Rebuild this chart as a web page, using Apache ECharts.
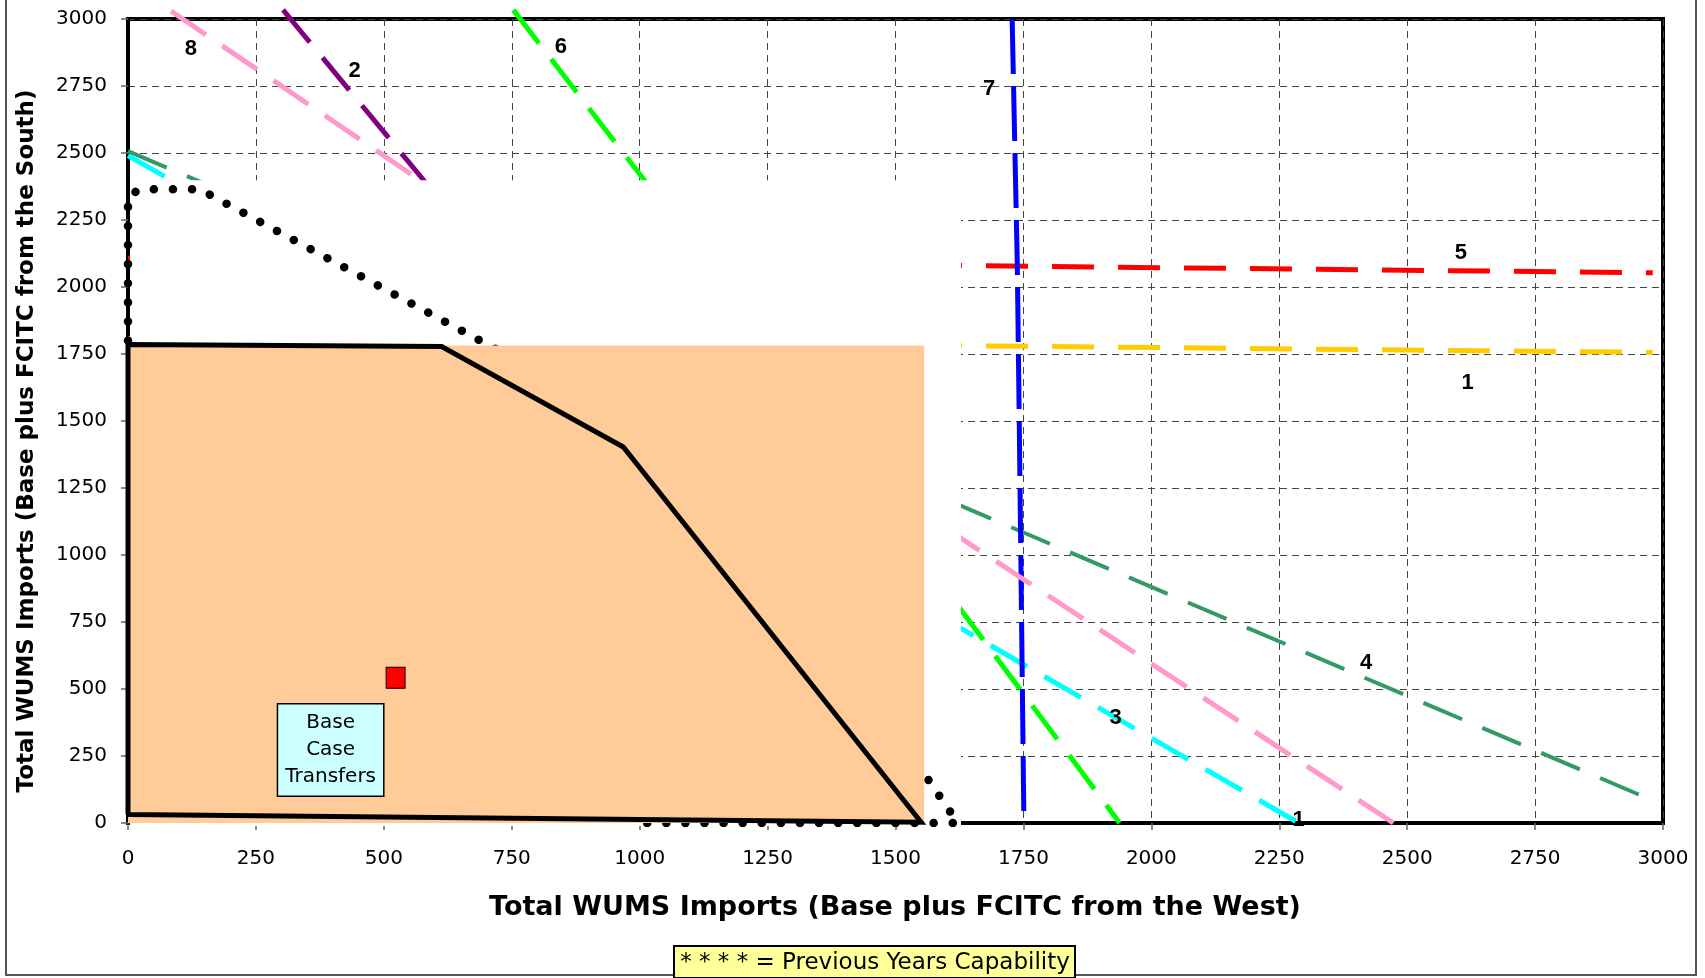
<!DOCTYPE html>
<html><head><meta charset="utf-8">
<script src="https://cdn.jsdelivr.net/npm/echarts@6/dist/echarts.min.js"></script>
<style>html,body{margin:0;padding:0;background:#fff}#c{width:1705px;height:978px}</style>
</head><body><div id="c"></div>
<script>
// ---- data ----
const axisMin = 0, axisMax = 3000, axisStep = 250;
const xTitle = 'Total WUMS Imports (Base plus FCITC from the West)';
const yTitle = 'Total WUMS Imports (Base plus FCITC from the South)';
const footnote = '* * * * = Previous Years Capability';

const line1 = [[0,1808],[1628,1781],[2980,1756]];
const line2 = [[303,3034],[582,2389],[1600,0]];
const line3 = [[0,2490],[1628,726],[2288,0]];
const line4 = [[0,2507],[2985,80]];
const line5 = [[0,2107],[1628,2080],[2980,2053]];
const line6 = [[753,3034],[1019,2374],[1628,795],[1938,0]];
const line7 = [[1728,3000],[1738,2089],[1742,1479],[1751,0]];
const line8 = [[84,3030],[578,2389],[1658,1025],[2473,0]];
const previousCapability = [[0,1800],[0,2337],[23,2365],[140,2365],[725,1762],[1560,173],[1622,0],[1000,0]];
const currentCapability = [[0,32],[0,1785],[613,1778],[968,1403],[1550,3],[0,32]];
const shadedRegion = [0,0,1556,1782];
const blankRegion = [0,0,1628,2398];
const baseCase = [[523,542]];
const lineLabels = [[123,2887,'8'],[443,2807,'2'],[846,2897,'6'],[1683,2738,'7'],[2605,2128,'5'],[2618,1643,'1'],[2420,596,'4'],[1930,393,'3'],[2288,11,'1']];
const noteLabel = [[396,272,'Base\nCase\nTransfers']];

// ---- chart ----
const chart = echarts.init(document.getElementById('c'), null, {renderer:'canvas'});

function dashLine(name, data, color, width, dash){
  return {type:'line', name, data, symbol:'none', clip:false, z:2, silent:true,
    lineStyle:{color, width, type:dash, cap:'butt', opacity:1}};
}
function rectSeries(name, region, color, z, padL, padB){
  return {type:'custom', name, z, silent:true, clip:false,
    data:[region],
    renderItem(params, api){
      const p0 = api.coord([api.value(0), api.value(1)]);
      const p1 = api.coord([api.value(2), api.value(3)]);
      return {type:'rect', shape:{x:p0[0]+padL, y:p1[1], width:p1[0]-p0[0]-padL, height:p0[1]-p1[1]+padB},
        style:{fill:color, opacity:1}};
    }};
}
const axisCommon = {
  type:'value', min:axisMin, max:axisMax, interval:axisStep,
  axisLine:{show:true, onZero:false, lineStyle:{color:'#000', width:4}},
  axisTick:{show:true, length:7, lineStyle:{color:'#666', width:1.5}},
  splitLine:{show:true, lineStyle:{color:'#444', width:1, type:[7,5]}}
};
const tickFmt = v => String(v);
const dashPat = [42,20];
chart.setOption({
  animation:false,
  backgroundColor:'#fff',
  grid:{left:128, right:42, top:19, bottom:155, show:true, borderColor:'#000', borderWidth:4, backgroundColor:'transparent', outerBoundsMode:'none'},
  xAxis:Object.assign({}, axisCommon, {axisLabel:{fontFamily:'DejaVu Sans', fontSize:20, color:'#000', margin:26, formatter:tickFmt}}),
  yAxis:Object.assign({}, axisCommon, {axisLabel:{fontFamily:'DejaVu Sans', fontSize:20, color:'#000', margin:21, formatter:tickFmt}}),
  series:[
    dashLine('1', line1, '#FFCC00', 5, [42,24]),
    dashLine('2', line2, '#800080', 5, dashPat),
    dashLine('3', line3, '#00FFFF', 5, dashPat),
    dashLine('4', line4, '#339966', 4, [42,22]),
    dashLine('5', line5, '#FF0000', 5, [42,24]),
    dashLine('6', line6, '#00FF00', 5, dashPat),
    dashLine('7', line7, '#0000FF', 5, [55,12]),
    dashLine('8', line8, '#FF99CC', 5, dashPat),
    rectSeries('blank', blankRegion, '#FFFFFF', 3, 2, 3),
    {type:'line', name:'previous', data:previousCapability, symbol:'none', z:4, silent:true,
      lineStyle:{color:'#000', width:8.5, type:[0.1,19], cap:'round', opacity:1}},
    rectSeries('shaded', shadedRegion, '#FFCC99', 5, 0, 0),
    {type:'line', name:'current', data:currentCapability, symbol:'none', z:6, silent:true,
      lineStyle:{color:'#000', width:5, join:'miter', opacity:1}},
    {type:'scatter', name:'base', data:baseCase, z:7, symbol:'rect', symbolSize:[19,21], silent:true,
      itemStyle:{color:'#FF0000', borderColor:'#000', borderWidth:1, opacity:1}},
    {type:'scatter', name:'labels', data:lineLabels, z:8, symbolSize:1, silent:true,
      itemStyle:{color:'rgba(0,0,0,0)', opacity:1},
      label:{show:true, position:'inside', formatter:p=>p.value[2], fontFamily:'Liberation Sans',
        fontWeight:'bold', fontSize:22, color:'#000', opacity:1, textBorderWidth:0}},
    {type:'scatter', name:'note', data:noteLabel, z:9, symbolSize:1, silent:true,
      itemStyle:{color:'rgba(0,0,0,0)', opacity:1},
      label:{show:true, position:'inside', formatter:p=>p.value[2], fontFamily:'DejaVu Sans',
        fontSize:20, lineHeight:27, color:'#000', align:'center', backgroundColor:'#CCFFFF',
        borderColor:'#000', borderWidth:1.5, padding:[5,7,5,7], opacity:1, textBorderWidth:0}}
  ],
  graphic:[
    {type:'rect', z:100, silent:true, shape:{x:6, y:-5, width:1690, height:980}, style:{fill:null, stroke:'#555', lineWidth:2}},
    {type:'text', z:100, silent:true, x:895, y:908, style:{text:xTitle, font:'bold 27px "DejaVu Sans"', fill:'#000', textAlign:'center', textVerticalAlign:'middle'}},
    {type:'text', z:100, silent:true, x:27, y:441, rotation:Math.PI/2, style:{text:yTitle, font:'bold 23px "DejaVu Sans"', fill:'#000', textAlign:'center', textVerticalAlign:'middle'}},
    {type:'rect', z:101, silent:true, shape:{x:674, y:946, width:401, height:32}, style:{fill:'#FFFF99', stroke:'#000', lineWidth:2}},
    {type:'text', z:102, silent:true, x:875, y:963, style:{text:footnote, font:'23px "DejaVu Sans"', fill:'#000', textAlign:'center', textVerticalAlign:'middle'}}
  ]
});
</script></body></html>
